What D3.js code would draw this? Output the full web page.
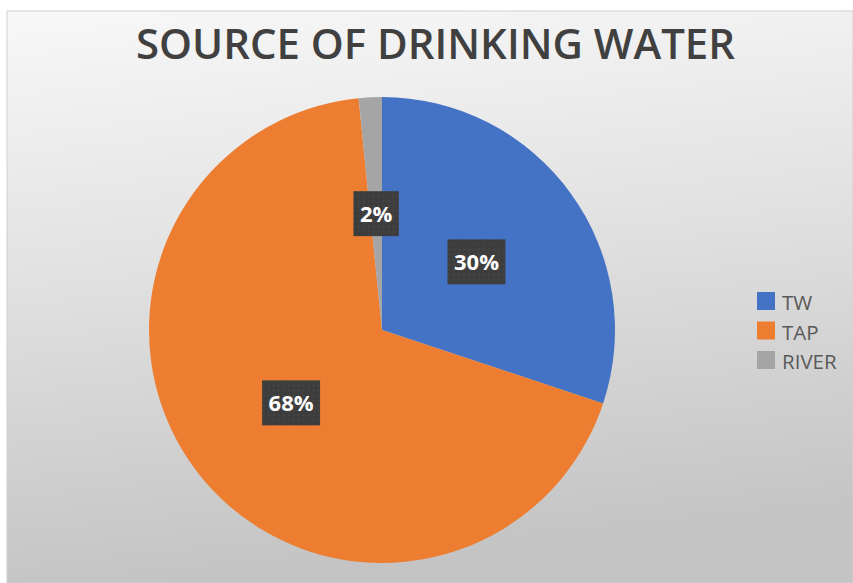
<!DOCTYPE html>
<html><head><meta charset="utf-8">
<script src="https://cdn.jsdelivr.net/npm/d3@7"></script>
<style>html,body{margin:0;padding:0;background:#fff;}svg{display:block;}</style>
</head><body>
<script>
const title = "SOURCE OF DRINKING WATER";
const categories = ["TW", "TAP", "RIVER"];
const values = [30.1, 68.3, 1.6];
const colors = ["#4472C4", "#ED7D31", "#A5A5A5"];

const W = 853, H = 583;
const svg = d3.select("body").append("svg").attr("width", W).attr("height", H);
const defs = svg.append("defs");
const lg = defs.append("linearGradient").attr("id", "bg").attr("x1", 0).attr("y1", 0).attr("x2", 0.15).attr("y2", 1);
lg.append("stop").attr("offset", "0%").attr("stop-color", "#f8f8f8");
lg.append("stop").attr("offset", "45%").attr("stop-color", "#e2e2e2");
lg.append("stop").attr("offset", "100%").attr("stop-color", "#c4c4c4");
const pat = defs.append("pattern").attr("id", "dots").attr("width", 5).attr("height", 5).attr("patternUnits", "userSpaceOnUse");
pat.append("rect").attr("width", 5).attr("height", 5).attr("fill", "#3d3d3d");
pat.append("rect").attr("x", 2).attr("y", 2).attr("width", 1.2).attr("height", 1.2).attr("fill", "#505050");

svg.append("rect").attr("x", 7).attr("y", 11).attr("width", W - 7).attr("height", H - 11)
  .attr("fill", "url(#bg)").attr("stroke", "#cfcfcf").attr("stroke-width", 1);

svg.append("text").attr("x", 435.5).attr("y", 59).attr("text-anchor", "middle")
  .attr("font-family", "Open Sans, sans-serif").attr("font-weight", 600).attr("font-size", 42)
  .attr("fill", "#404040").attr("textLength", 599).attr("lengthAdjust", "spacingAndGlyphs")
  .text(title);

const cx = 382, cy = 330, R = 233;
const pie = d3.pie().sort(null).value(d => d)(values);
const arc = d3.arc().innerRadius(0).outerRadius(R);
const labelArc = d3.arc().innerRadius(R / 2).outerRadius(R / 2);
const g = svg.append("g").attr("transform", `translate(${cx},${cy})`);
g.selectAll("path").data(pie).join("path").attr("d", arc).attr("fill", (d, i) => colors[i]);

const total = d3.sum(values);
const lab = g.selectAll("g.lab").data(pie).join("g").attr("class", "lab")
  .attr("transform", d => { const c = labelArc.centroid(d); return `translate(${c[0]},${c[1]})`; });
lab.each(function(d) {
  const s = d3.select(this);
  const t = s.append("text").attr("text-anchor", "middle").attr("y", 8)
    .attr("font-family", "Open Sans, sans-serif").attr("font-weight", 700).attr("font-size", 22)
    .attr("fill", "#fff").text(Math.round(d.value / total * 100) + "%");
  const w = t.node().getComputedTextLength() + 13;
  s.insert("rect", "text").attr("x", -w / 2).attr("y", -22.5).attr("width", w).attr("height", 45)
    .attr("fill", "url(#dots)");
});

const leg = svg.append("g").attr("transform", "translate(757,292)");
const li = leg.selectAll("g").data(categories).join("g").attr("transform", (d, i) => `translate(0,${i * 29.5})`);
li.append("rect").attr("width", 18).attr("height", 18).attr("fill", (d, i) => colors[i]);
li.append("text").attr("x", 25).attr("y", 18).attr("font-family", "Open Sans, sans-serif")
  .attr("font-size", 20.5).attr("fill", "#595959").text(d => d);
</script>
</body></html>
